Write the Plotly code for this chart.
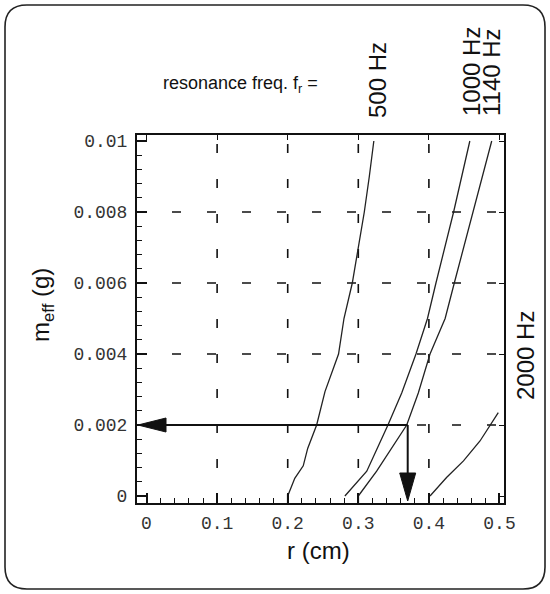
import plotly.graph_objects as go

# ---------------- data ----------------
R_500 = [0.200, 0.210, 0.222, 0.2283, 0.241, 0.2528, 0.272, 0.2797, 0.2915, 0.300, 0.3085, 0.3156, 0.322]
M_500 = [0.0, 0.0005, 0.00085, 0.00134, 0.002, 0.00294, 0.004, 0.005, 0.006, 0.007, 0.008, 0.009, 0.0100]

R_1000 = [0.281, 0.300, 0.312, 0.342, 0.3615, 0.3817, 0.398, 0.410, 0.435, 0.458]
M_1000 = [0.0, 0.00042, 0.0007, 0.002, 0.0029, 0.004, 0.005, 0.006, 0.008, 0.0100]

R_1140 = [0.300, 0.326, 0.3686, 0.385, 0.4016, 0.423, 0.436, 0.463, 0.489]
M_1140 = [0.0, 0.0007, 0.002, 0.0029, 0.004, 0.005, 0.006, 0.008, 0.0100]

R_2000 = [0.4016, 0.425, 0.449, 0.4724, 0.4983]
M_2000 = [0.0, 0.00052, 0.00099, 0.00155, 0.00235]

CURVE_LABELS = ["500 Hz", "1000 Hz", "1140 Hz", "2000 Hz"]

R_ARROW = 0.37
M_ARROW = 0.002

X_TICKS = [0, 0.1, 0.2, 0.3, 0.4, 0.5]
X_TICKTEXT = ["0", "0.1", "0.2", "0.3", "0.4", "0.5"]
Y_TICKS = [0, 0.002, 0.004, 0.006, 0.008, 0.01]
Y_TICKTEXT = ["0", "0.002", "0.004", "0.006", "0.008", "0.01"]
GRID_X = [0.1, 0.2, 0.3, 0.4]
GRID_Y = [0.002, 0.004, 0.006, 0.008]

XR = [-0.0135, 0.5064]
YR = [-0.000197, 0.010169]

# ---------------- layout geometry ----------------
W, H = 550, 594
L, R, T, B = 137, 46, 135, 91
PW = W - L - R
PH = H - T - B


def fx(px):
    return (px - L) / PW


def fy(py):
    return (H - B - py) / PH


SANS = "Liberation Sans, Arial, sans-serif"
MONO = "Liberation Mono, Courier New, monospace"
INK = "#111111"

fig = go.Figure()

for rr, mm in [(R_500, M_500), (R_1000, M_1000), (R_1140, M_1140), (R_2000, M_2000)]:
    fig.add_trace(go.Scatter(x=rr, y=mm, mode="lines",
                             line=dict(color="#222222", width=1.3),
                             showlegend=False, hoverinfo="skip"))

# dummy trace for mirrored tick axes
fig.add_trace(go.Scatter(x=[None], y=[None], xaxis="x2", yaxis="y2",
                         showlegend=False, hoverinfo="skip"))

shapes = []
DASH = "9px,26px"
for gx in GRID_X:
    shapes.append(dict(type="line", xref="x", yref="y", x0=gx, x1=gx, y0=YR[0], y1=YR[1],
                       line=dict(color=INK, width=1.6, dash=DASH), layer="below"))
for gy in GRID_Y:
    shapes.append(dict(type="line", xref="x", yref="y", x0=XR[0], x1=XR[1], y0=gy, y1=gy,
                       line=dict(color=INK, width=1.6, dash=DASH), layer="below"))

# arrows
shapes.append(dict(type="line", xref="x", yref="y", x0=R_ARROW, x1=XR[0] + 0.02, y0=M_ARROW, y1=M_ARROW,
                   line=dict(color=INK, width=2)))
shapes.append(dict(type="line", xref="x", yref="y", x0=R_ARROW, x1=R_ARROW, y0=M_ARROW, y1=YR[0] + 0.0003,
                   line=dict(color=INK, width=2)))
shapes.append(dict(type="path", xref="x", yref="y", xsizemode="pixel", ysizemode="pixel",
                   xanchor=XR[0], yanchor=M_ARROW,
                   path="M1,0 L29,7 L29,-7 Z", fillcolor=INK, line=dict(color=INK, width=1)))
shapes.append(dict(type="path", xref="x", yref="y", xsizemode="pixel", ysizemode="pixel",
                   xanchor=R_ARROW, yanchor=YR[0],
                   path="M0,2 L-8,30 L8,30 Z", fillcolor=INK, line=dict(color=INK, width=1)))

# outer rounded frame
x0p, x1p, y0p, y1p, rad = 5, 545, 5, 589, 22
def P(px, py):
    return f"{fx(px):.5f},{fy(py):.5f}"
rpath = (f"M{P(x0p + rad, y0p)} L{P(x1p - rad, y0p)} Q{P(x1p, y0p)} {P(x1p, y0p + rad)} "
         f"L{P(x1p, y1p - rad)} Q{P(x1p, y1p)} {P(x1p - rad, y1p)} "
         f"L{P(x0p + rad, y1p)} Q{P(x0p, y1p)} {P(x0p, y1p - rad)} "
         f"L{P(x0p, y0p + rad)} Q{P(x0p, y0p)} {P(x0p + rad, y0p)} Z")
shapes.append(dict(type="path", xref="paper", yref="paper", path=rpath,
                   line=dict(color="#222222", width=1.6)))

ann = []
def add_text(text, px, py, size, angle=0):
    ann.append(dict(text=text, xref="paper", yref="paper", x=fx(px), y=fy(py),
                    xanchor="center", yanchor="middle", showarrow=False, textangle=angle,
                    font=dict(family=SANS, size=size, color=INK)))

add_text("resonance freq. f<sub>r</sub> =", 240, 84, 18)
add_text(CURVE_LABELS[0], 377, 80, 24, -90)
add_text(CURVE_LABELS[1], 472, 72, 24, -90)
add_text(CURVE_LABELS[2], 492, 72, 24, -90)
add_text(CURVE_LABELS[3], 525, 356, 24, -90)
add_text("m<sub>eff</sub> (g)", 42, 305, 24, -90)
add_text("r (cm)", 318, 550, 24)

fig.update_layout(
    width=W, height=H,
    margin=dict(l=L, r=R, t=T, b=B),
    paper_bgcolor="white", plot_bgcolor="white",
    shapes=shapes, annotations=ann,
    xaxis=dict(range=XR, tickmode="array", tickvals=X_TICKS, ticktext=X_TICKTEXT,
               showgrid=False, zeroline=False, showline=True, mirror=True,
               linecolor=INK, linewidth=2, ticks="inside", ticklen=10, tickwidth=1.5,
               tickcolor=INK, ticklabelstandoff=2,
               tickfont=dict(family=MONO, size=18, color="#333333"),
               minor=dict(dtick=0.02, tick0=0, ticks="inside", ticklen=5, tickwidth=1.2,
                          tickcolor=INK, showgrid=False)),
    yaxis=dict(range=YR, tickmode="array", tickvals=Y_TICKS, ticktext=Y_TICKTEXT,
               showgrid=False, zeroline=False, showline=True, mirror=True,
               linecolor=INK, linewidth=2, ticks="inside", ticklen=10, tickwidth=1.5,
               tickcolor=INK, ticklabelstandoff=4,
               tickfont=dict(family=MONO, size=18, color="#333333"),
               minor=dict(dtick=0.0004, tick0=0, ticks="inside", ticklen=5, tickwidth=1.2,
                          tickcolor=INK, showgrid=False)),
    xaxis2=dict(range=XR, overlaying="x", side="top", anchor="y", tickmode="array",
                tickvals=X_TICKS, showticklabels=False, ticks="inside", ticklen=5,
                tickwidth=1.2, tickcolor=INK, showgrid=False, zeroline=False, showline=False),
    yaxis2=dict(range=YR, overlaying="y", side="right", anchor="x", tickmode="array",
                tickvals=Y_TICKS, showticklabels=False, ticks="inside", ticklen=5,
                tickwidth=1.2, tickcolor=INK, showgrid=False, zeroline=False, showline=False),
)

fig.write_html("out.html")
